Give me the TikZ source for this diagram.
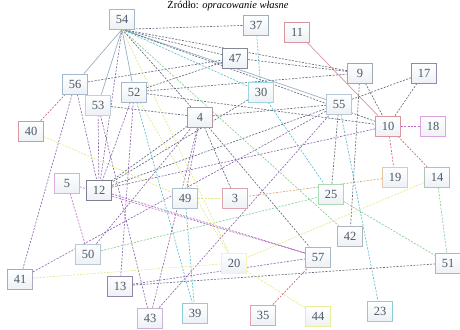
\documentclass[tikz,border=0pt]{standalone}
\usepackage{fontspec}
\setmainfont{Liberation Serif}
\usetikzlibrary{backgrounds}
\pgfdeclarelayer{links}
\pgfsetlayers{background,links,main}

\definecolor{txt}{HTML}{4A5868}
\definecolor{cgray}{HTML}{626C7C}
\definecolor{cpurple}{HTML}{8E66AC}
\definecolor{cmag}{HTML}{C466CC}
\definecolor{ccyan}{HTML}{58BCCC}
\definecolor{cgreen}{HTML}{86CC94}
\definecolor{cyell}{HTML}{E4E880}
\definecolor{cred}{HTML}{C86878}
\definecolor{corange}{HTML}{D8A466}
\definecolor{csolid}{HTML}{9AB0C4}
\definecolor{boxlow}{HTML}{EEF1F5}

\tikzset{
  box/.style={draw=#1, top color=white, bottom color=boxlow, line width=0.75pt,
    minimum width=25bp, minimum height=20bp, inner sep=0pt, text=txt,
    font=\fontsize{12.5}{13}\selectfont},
  lk/.style={draw=#1, dashed, line width=0.65pt, dash pattern=on 2pt off 1.4pt},
  sl/.style={draw=#1, line width=0.7pt},
}

\begin{document}
\begin{tikzpicture}[x=1bp, y=-1bp]
\useasboundingbox (0,0) rectangle (460,329);
\begin{scope}[on background layer]
  \fill[white] (0,0) rectangle (460,329);
\end{scope}

\node[font=\fontsize{10.5}{12}\selectfont, anchor=base] (cap) at (228,8.6)
  {Źródło: \textit{opracowanie własne}};

% boxes
\node[box=csolid!90] (n54) at (122,19) {54};
\node[box=csolid] (n37) at (256,25) {37};
\node[box=cred!70] (n11) at (297,32) {11};
\node[box=cgray!80] (n47) at (235,58) {47};
\node[box=ccyan!60] (n30) at (261,92) {30};
\node[box=cred!40!cgray!70] (n4) at (200,117) {4};
\node[box=cgray!60] (n9) at (360,73) {9};
\node[box=cpurple!60!cgray!80] (n17) at (424,73) {17};
\node[box=csolid!70] (n55) at (339,104) {55};
\node[box=cred!70] (n10) at (388,126) {10};
\node[box=cmag!60] (n18) at (433,126) {18};
\node[box=corange!60] (n19) at (395,177) {19};
\node[box=cgreen!50!cgray!60] (n14) at (437,177) {14};
\node[box=cgreen!70] (n25) at (331,194) {25};
\node[box=csolid!90] (n56) at (75,84) {56};
\node[box=csolid!60] (n53) at (98,105) {53};
\node[box=csolid!90] (n52) at (134,92) {52};
\node[box=cred!70] (n40) at (31,131) {40};
\node[box=cmag!55] (n5) at (67,183) {5};
\node[box=cgray!85] (n12) at (99,190) {12};
\node[box=csolid!80] (n49) at (185,198) {49};
\node[box=cred!60] (n3) at (235,198) {3};
\node[box=csolid!70] (n50) at (88,254) {50};
\node[box=cpurple!50!cgray!60] (n41) at (20,279) {41};
\node[box=cpurple!50!cgray!80] (n13) at (120,286) {13};
\node[box=cmag!50!cgray!50] (n43) at (150,318) {43};
\node[box=cyell!50] (n20) at (234,263) {20};
\node[box=ccyan!70] (n39) at (195,313) {39};
\node[box=cred!60] (n35) at (263,315) {35};
\node[box=cyell!80] (n44) at (318,316) {44};
\node[box=cgray!50] (n42) at (350,236) {42};
\node[box=csolid!90] (n57) at (318,257) {57};
\node[box=csolid!90] (n51) at (448,263) {51};
\node[box=ccyan!70] (n23) at (380,311) {23};

\begin{pgfonlayer}{links}
% solid links
\draw[sl=csolid] (n54.south) -- (n56) (n54.south) -- (n53) (n54.south) -- (n52) (n54.south) -- (n55);
\draw[sl=cred!70] (n11) -- (n10);
% grey dashed
\foreach \a/\b in {n54.south/n37, n54.south/n47, n54.south/n9, n54.south/n4, n54.south/n10,
  n56/n47, n52/n47, n52/n9, n52/n10, n53/n4, n47/n9, n4/n12, n4/n55,
  n30/n12, n12/n55, n9/n10, n9/n42, n55/n25, n17/n55, n17/n10, n4/n3, n4/n57, n13/n51}
  \draw[lk=cgray] (\a) -- (\b);
% purple dashed
\foreach \a/\b in {n54.south/n12, n56/n12, n53/n12, n52/n12, n52/n13, n56/n41, n50/n4,
  n53/n43, n43/n4, n43/n55, n41/n55, n12/n57, n4/n49, n13/n57, n12/n10}
  \draw[lk=cpurple] (\a) -- (\b);
% magenta dashed
\foreach \a/\b in {n5/n50, n5/n57, n10/n18}
  \draw[lk=cmag] (\a) -- (\b);
% cyan dashed
\foreach \a/\b in {n37/n30, n54.south/n30, n30/n25, n55/n23, n52/n39, n49/n39}
  \draw[lk=ccyan] (\a) -- (\b);
% green dashed
\foreach \a/\b in {n14/n51, n25/n51, n50/n25, n54.south/n42}
  \draw[lk=cgreen] (\a) -- (\b);
% yellow dashed
\foreach \a/\b in {n54.south/n20, n52/n20, n40/n49, n14/n20, n41/n20, n49/n3, n20/n44}
  \draw[lk=cyell] (\a) -- (\b);
% red dashed
\foreach \a/\b in {n56/n40, n10/n19, n10/n14, n35/n57}
  \draw[lk=cred] (\a) -- (\b);
\draw[lk=corange] (n19) -- (n3);
\end{pgfonlayer}
\end{tikzpicture}
\end{document}
